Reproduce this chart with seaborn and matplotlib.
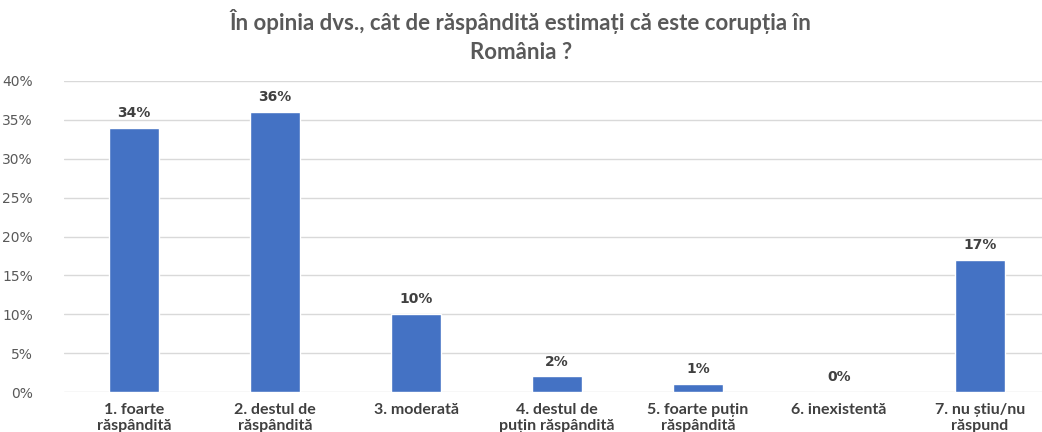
import matplotlib
matplotlib.use('Agg')
import matplotlib.pyplot as plt
import seaborn as sns
import pandas as pd
from matplotlib.ticker import PercentFormatter

categories = ['1. foarte\nrăspândită', '2. destul de\nrăspândită', '3. moderată',
              '4. destul de\npuțin răspândită', '5. foarte puțin\nrăspândită',
              '6. inexistentă', '7. nu știu/nu\nrăspund']
values = [34, 36, 10, 2, 1, 0, 17]

sns.set_theme(style='white')
plt.rcParams['font.family'] = ['Lato', 'DejaVu Sans']

df = pd.DataFrame({'cat': categories, 'val': values})

fig = plt.figure(figsize=(10.42, 4.32), dpi=100)
ax = fig.add_axes([63.5 / 1042, 40 / 432, 987 / 1042, 311 / 432])

sns.barplot(data=df, x='cat', y='val', color='#4472C4', width=0.355,
            saturation=1, ax=ax)

ax.set_ylim(0, 40)
ax.set_xlim(-0.5, 6.5)
ax.set_yticks(range(0, 41, 5))
ax.yaxis.set_major_formatter(PercentFormatter(decimals=0))
ax.grid(axis='y', color='#d9d9d9', linewidth=1)
ax.set_axisbelow(True)
for s in ax.spines.values():
    s.set_visible(False)
ax.set_xlabel('')
ax.set_ylabel('')
ax.tick_params(axis='y', length=0, labelsize=10, labelcolor='#595959', pad=22)
ax.tick_params(axis='x', length=0, labelsize=11.5, labelcolor='#404040', pad=8)
for t in ax.get_yticklabels():
    t.set_family('DejaVu Sans')
for t in ax.get_xticklabels():
    t.set_fontweight('bold')
    t.set_verticalalignment('top')

for i, v in enumerate(values):
    ax.text(i, v + 1.0, f'{v}%', ha='center', va='bottom', fontsize=10,
            fontweight='bold', color='#404040', family='DejaVu Sans')

fig.text(0.5, 0.98, 'În opinia dvs., cât de răspândită estimați că este corupția în\nRomânia ?',
         ha='center', va='top', fontsize=16, fontweight='bold', color='#595959',
         linespacing=1.5)

fig.savefig('out.png', dpi=100)
